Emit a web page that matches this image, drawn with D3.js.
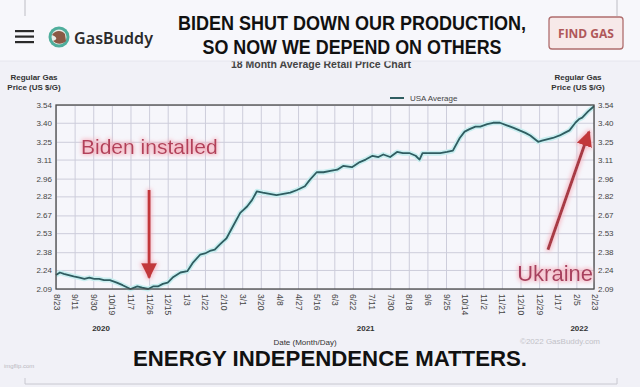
<!DOCTYPE html>
<html>
<head>
<meta charset="utf-8">
<script src="https://cdn.jsdelivr.net/npm/d3@7"></script>
<style>
  body { margin: 0; background: #f1f1f7; }
  svg { display: block; font-family: "Liberation Sans", Arial, sans-serif; }
</style>
</head>
<body>
<div id="chart"></div>
<script>
// Datos (precio promedio USA, $/galón)
const priceDates = [
  "2020-08-23","2020-08-27","2020-08-31","2020-09-05","2020-09-10","2020-09-16","2020-09-21","2020-09-26",
  "2020-10-01","2020-10-06","2020-10-11","2020-10-17","2020-10-24","2020-10-30","2020-11-07","2020-11-14",
  "2020-11-19","2020-11-25","2020-11-30","2020-12-05","2020-12-10","2020-12-15","2020-12-20","2020-12-28",
  "2021-01-04","2021-01-10","2021-01-17","2021-01-22","2021-01-27","2021-02-01","2021-02-06","2021-02-13",
  "2021-02-20","2021-02-27","2021-03-06","2021-03-11","2021-03-16","2021-03-22","2021-03-29","2021-04-05",
  "2021-04-12","2021-04-19","2021-04-26","2021-05-04","2021-05-09","2021-05-16","2021-05-23","2021-05-30",
  "2021-06-06","2021-06-12","2021-06-21","2021-06-29","2021-07-05","2021-07-12","2021-07-18","2021-07-23",
  "2021-07-30","2021-08-06","2021-08-12","2021-08-19","2021-08-25","2021-08-29","2021-09-01","2021-09-10",
  "2021-09-19","2021-09-26","2021-10-02","2021-10-09","2021-10-14","2021-10-19","2021-10-25","2021-10-30",
  "2021-11-06","2021-11-12","2021-11-19","2021-11-26","2021-12-03","2021-12-09","2021-12-15","2021-12-20",
  "2021-12-28","2022-01-01","2022-01-06","2022-01-12","2022-01-19","2022-01-24","2022-01-29","2022-02-04",
  "2022-02-08","2022-02-11","2022-02-17","2022-02-23"
];
const priceValues = [
  2.20, 2.22, 2.21, 2.20, 2.19, 2.18, 2.17, 2.18,
  2.17, 2.17, 2.16, 2.16, 2.14, 2.12, 2.09, 2.11,
  2.10, 2.09, 2.11, 2.11, 2.13, 2.14, 2.18, 2.22,
  2.23, 2.30, 2.36, 2.37, 2.39, 2.40, 2.44, 2.49,
  2.59, 2.69, 2.74, 2.79, 2.86, 2.85, 2.84, 2.83,
  2.84, 2.85, 2.87, 2.90, 2.95, 3.01, 3.01, 3.02,
  3.03, 3.06, 3.05, 3.09, 3.11, 3.14, 3.13, 3.15,
  3.13, 3.17, 3.16, 3.16, 3.14, 3.11, 3.16, 3.16,
  3.16, 3.17, 3.18, 3.28, 3.33, 3.35, 3.37, 3.37,
  3.39, 3.40, 3.40, 3.38, 3.36, 3.34, 3.32, 3.30,
  3.25, 3.26, 3.27, 3.28, 3.30, 3.32, 3.34, 3.40,
  3.43, 3.44, 3.49, 3.53
];
const yTicks = [2.09, 2.24, 2.38, 2.53, 2.67, 2.82, 2.96, 3.11, 3.25, 3.40, 3.54];
const tickDates = [
  "2020-08-23","2020-09-11","2020-09-30","2020-10-19","2020-11-07","2020-11-26","2020-12-15",
  "2021-01-03","2021-01-22","2021-02-10","2021-03-01","2021-03-20","2021-04-08","2021-04-27",
  "2021-05-16","2021-06-03","2021-06-22","2021-07-11","2021-07-30","2021-08-18","2021-09-06",
  "2021-09-25","2021-10-14","2021-11-02","2021-11-21","2021-12-10","2021-12-29","2022-01-17",
  "2022-02-05","2022-02-23"
];
const yearLabels = ["2020", "2021", "2022"];
const yearDates = ["2020-10-08", "2021-07-05", "2022-02-08"];

const parse = d3.timeParse("%Y-%m-%d");
const data = priceDates.map((d, i) => ({ date: parse(d), value: priceValues[i] }));

const width = 640, height = 387;
const plot = { left: 56, right: 594, top: 105, bottom: 289 };

const svg = d3.select("#chart").append("svg")
  .attr("width", width).attr("height", height);

const defs = svg.append("defs");
// brillo rosado alrededor de las anotaciones
const glow = defs.append("filter").attr("id", "glow")
  .attr("filterUnits", "userSpaceOnUse")
  .attr("x", 0).attr("y", 0).attr("width", width).attr("height", height);
glow.append("feMorphology").attr("in", "SourceAlpha").attr("operator", "dilate").attr("radius", 1.2).attr("result", "d");
glow.append("feGaussianBlur").attr("in", "d").attr("stdDeviation", 2.2).attr("result", "b");
glow.append("feFlood").attr("flood-color", "#f6aebb").attr("flood-opacity", 0.85);
glow.append("feComposite").attr("in2", "b").attr("operator", "in").attr("result", "g");
const gm = glow.append("feMerge");
gm.append("feMergeNode").attr("in", "g");
gm.append("feMergeNode").attr("in", "SourceGraphic");

defs.append("marker").attr("id", "head")
  .attr("viewBox", "0 0 10 10").attr("refX", 9).attr("refY", 5)
  .attr("markerUnits", "userSpaceOnUse")
  .attr("markerWidth", 16).attr("markerHeight", 16)
  .attr("orient", "auto")
  .append("path").attr("d", "M0,0 L10,5 L0,10 Z").attr("fill", "#c2393a");

// Escalas
const x = d3.scaleTime()
  .domain([parse("2020-08-23"), parse("2022-02-23")])
  .range([plot.left, plot.right]);
const y = d3.scaleLinear().domain([2.09, 3.54]).range([plot.bottom, plot.top]);

// Fondo del área del gráfico
svg.append("rect")
  .attr("x", plot.left).attr("y", plot.top)
  .attr("width", plot.right - plot.left).attr("height", plot.bottom - plot.top)
  .attr("fill", "#f6f6fb");

// Rejilla
svg.append("g")
  .attr("transform", `translate(${plot.left},0)`)
  .call(d3.axisLeft(y).tickValues(yTicks).tickSize(-(plot.right - plot.left)).tickFormat(""))
  .call(g => g.select(".domain").remove())
  .call(g => g.selectAll("line").attr("stroke", "#cdcddb").attr("stroke-width", 1));

svg.append("g")
  .attr("transform", `translate(0,${plot.bottom})`)
  .call(d3.axisBottom(x).tickValues(tickDates.map(parse)).tickSize(-(plot.bottom - plot.top)).tickFormat(""))
  .call(g => g.select(".domain").remove())
  .call(g => g.selectAll("line").attr("stroke", "#cdcddb").attr("stroke-width", 1));

// Línea de precios
const line = d3.line().x(d => x(d.date)).y(d => y(d.value)).curve(d3.curveLinear);
svg.append("path").datum(data)
  .attr("d", line).attr("fill", "none")
  .attr("stroke", "#c9eef0").attr("stroke-width", 5).attr("stroke-linejoin", "round");
svg.append("path").datum(data)
  .attr("d", line).attr("fill", "none")
  .attr("stroke", "#2f5d61").attr("stroke-width", 1.8).attr("stroke-linejoin", "round");

// Borde
svg.append("rect")
  .attr("x", plot.left).attr("y", plot.top)
  .attr("width", plot.right - plot.left).attr("height", plot.bottom - plot.top)
  .attr("fill", "none").attr("stroke", "#4a4a4a").attr("stroke-width", 1.3);

// Ejes Y (izquierda y derecha)
const styleAxis = g => {
  g.select(".domain").remove();
  g.selectAll("text").attr("font-size", 8).attr("fill", "#444")
    .attr("font-family", "'Liberation Sans Narrow', 'Liberation Sans', sans-serif");
};
svg.append("g")
  .attr("transform", `translate(${plot.left},0)`)
  .call(d3.axisLeft(y).tickValues(yTicks).tickSize(0).tickPadding(4).tickFormat(d3.format(".2f")))
  .call(styleAxis);
svg.append("g")
  .attr("transform", `translate(${plot.right},0)`)
  .call(d3.axisRight(y).tickValues(yTicks).tickSize(0).tickPadding(4).tickFormat(d3.format(".2f")))
  .call(styleAxis);

// Eje X con etiquetas giradas
svg.append("g")
  .attr("transform", `translate(0,${plot.bottom})`)
  .call(d3.axisBottom(x).tickValues(tickDates.map(parse)).tickSize(0).tickFormat(d3.timeFormat("%-m/%-d")))
  .call(styleAxis)
  .call(g => g.selectAll("text")
    .attr("font-size", 8.5)
    .attr("transform", "rotate(90)")
    .attr("text-anchor", "start")
    .attr("x", 5).attr("y", 0).attr("dy", "0.35em"));

// Años
svg.append("g").selectAll("text")
  .data(yearLabels)
  .join("text")
  .attr("x", (d, i) => x(parse(yearDates[i])))
  .attr("y", 331)
  .attr("text-anchor", "middle")
  .attr("font-size", 8).attr("font-weight", "bold").attr("fill", "#333")
  .text(d => d);

// Títulos de ejes y leyenda
[34, 578].forEach(cx => {
  svg.append("text").attr("x", cx).attr("y", 80).attr("text-anchor", "middle")
    .attr("font-size", 8).attr("font-weight", "bold").attr("fill", "#333").text("Regular Gas");
  svg.append("text").attr("x", cx).attr("y", 90).attr("text-anchor", "middle")
    .attr("font-size", 8).attr("font-weight", "bold").attr("fill", "#333").text("Price (US $/G)");
});

svg.append("line").attr("x1", 390).attr("x2", 404).attr("y1", 98).attr("y2", 98)
  .attr("stroke", "#2f5d61").attr("stroke-width", 2);
svg.append("text").attr("x", 410).attr("y", 101).attr("font-size", 8).attr("fill", "#444")
  .text("USA Average");

svg.append("text").attr("x", 305).attr("y", 345).attr("text-anchor", "middle")
  .attr("font-size", 8).attr("fill", "#333").text("Date (Month/Day)");
svg.append("text").attr("x", 560).attr("y", 344).attr("text-anchor", "middle")
  .attr("font-size", 8).attr("fill", "#c2c2c8").text("©2022 GasBuddy.com");

// Subtítulo cortado por la cabecera
svg.append("text").attr("x", 321).attr("y", 68).attr("text-anchor", "middle")
  .attr("font-size", 10.5).attr("font-weight", "bold").attr("fill", "#444")
  .text("18 Month Average Retail Price Chart");

// Cabecera
svg.append("rect").attr("x", 0).attr("y", 0).attr("width", width).attr("height", 61)
  .attr("fill", "#f7f7fb");
svg.append("line").attr("x1", 0).attr("x2", width).attr("y1", 61).attr("y2", 61)
  .attr("stroke", "#e6e6ee").attr("stroke-width", 1);
svg.append("line").attr("x1", 25).attr("x2", 25).attr("y1", 0).attr("y2", 16)
  .attr("stroke", "#bdbdc4");
svg.append("line").attr("x1", 617).attr("x2", 617).attr("y1", 0).attr("y2", 16)
  .attr("stroke", "#bdbdc4");

// Menú hamburguesa
[31, 36.5, 42].forEach(yy => {
  svg.append("rect").attr("x", 15).attr("y", yy - 1).attr("width", 19).attr("height", 2.2)
    .attr("fill", "#2a2a2a");
});

// Logo GasBuddy
svg.append("circle").attr("cx", 59).attr("cy", 37).attr("r", 10.5).attr("fill", "#4fae9c");
svg.append("circle").attr("cx", 59).attr("cy", 37).attr("r", 7.5).attr("fill", "#e9eeea");
svg.append("path")
  .attr("d", "M52,35 C55,30 62,30 65,34 L66,41 C62,45 56,44 53,41 C56,40 59,38 52,35 Z")
  .attr("fill", "#8a5a46");
svg.append("text").attr("x", 74).attr("y", 44).attr("font-size", 16).attr("font-weight", 600)
  .attr("font-family", "'Noto Sans', 'Open Sans', sans-serif").attr("fill", "#2b2b2b")
  .attr("textLength", 79).text("GasBuddy");

// Título principal
svg.append("text").attr("x", 352).attr("y", 30).attr("text-anchor", "middle")
  .attr("font-size", 20).attr("font-weight", "bold").attr("fill", "#111")
  .attr("textLength", 348).attr("lengthAdjust", "spacingAndGlyphs")
  .text("BIDEN SHUT DOWN OUR PRODUCTION,");
svg.append("text").attr("x", 352).attr("y", 54).attr("text-anchor", "middle")
  .attr("font-size", 20).attr("font-weight", "bold").attr("fill", "#111")
  .attr("textLength", 299).attr("lengthAdjust", "spacingAndGlyphs")
  .text("SO NOW WE DEPEND ON OTHERS");

// Botón FIND GAS
svg.append("rect").attr("x", 549).attr("y", 17).attr("width", 74).attr("height", 32).attr("rx", 3)
  .attr("fill", "#f7e9e9").attr("stroke", "#b06e6e").attr("stroke-width", 1.3);
svg.append("text").attr("x", 586).attr("y", 37.5).attr("text-anchor", "middle")
  .attr("font-size", 12).attr("font-weight", "bold").attr("fill", "#b0585a")
  .attr("font-family", "'Open Sans', 'Noto Sans', sans-serif").text("FIND GAS");

// Anotaciones
svg.append("text").attr("x", 81).attr("y", 154)
  .attr("font-size", 21).attr("fill", "#b3405a").attr("filter", "url(#glow)")
  .text("Biden installed");
svg.append("line")
  .attr("x1", x(parse("2020-11-26"))).attr("y1", y(2.87))
  .attr("x2", x(parse("2020-11-26"))).attr("y2", y(2.18))
  .attr("stroke", "#c2393a").attr("stroke-width", 3)
  .attr("marker-end", "url(#head)").attr("filter", "url(#glow)");

svg.append("text").attr("x", 593).attr("y", 281).attr("text-anchor", "end")
  .attr("font-size", 22).attr("fill", "#a8405e").attr("filter", "url(#glow)")
  .text("Ukraine");
svg.append("line")
  .attr("x1", x(parse("2022-01-07"))).attr("y1", y(2.40))
  .attr("x2", x(parse("2022-02-18"))).attr("y2", y(3.33))
  .attr("stroke", "#a83a45").attr("stroke-width", 3)
  .attr("marker-end", "url(#head)").attr("filter", "url(#glow)");

// Pie
svg.append("text").attr("x", 330).attr("y", 366).attr("text-anchor", "middle")
  .attr("font-size", 22).attr("font-weight", "bold").attr("fill", "#111")
  .attr("textLength", 394).attr("lengthAdjust", "spacingAndGlyphs")
  .text("ENERGY INDEPENDENCE MATTERS.");
svg.append("text").attr("x", 4).attr("y", 368).attr("font-size", 6).attr("fill", "#b8b8c0")
  .text("imgflip.com");
svg.append("path").attr("d", "M25,378 L25,384 L617,384 L617,378")
  .attr("fill", "none").attr("stroke", "#c8c8d0").attr("stroke-width", 1);
</script>
</body>
</html>
